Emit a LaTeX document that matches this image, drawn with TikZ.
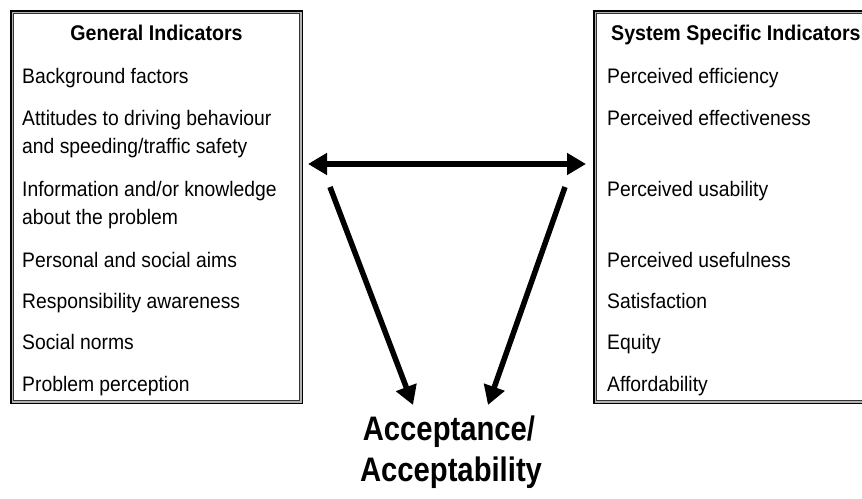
\documentclass[tikz,border=0pt]{standalone}
\usepackage{fontspec}
\setmainfont{Liberation Sans}[FakeStretch=0.92]
\newfontfamily\bigfont{Liberation Sans}[FakeStretch=0.86]
\usetikzlibrary{arrows.meta}

\tikzset{
  frame/.style={draw=black, line width=3.5pt, inner sep=0pt},
  item/.style={anchor=base west, inner sep=0pt, font=\fontsize{21}{28}\selectfont},
  head/.style={anchor=base, inner sep=0pt, font=\fontsize{21.3}{28}\selectfont\bfseries},
  headw/.style={anchor=base west, inner sep=0pt, font=\fontsize{21.3}{28}\selectfont\bfseries},
  result/.style={anchor=base, inner sep=0pt, font=\bigfont\fontsize{34}{40}\selectfont\bfseries},
  bigarrow/.style={line width=5.5pt, -{Triangle[length=19pt,width=21pt]}},
  bothways/.style={line width=5.5pt, {Triangle[length=19pt,width=21pt]}-{Triangle[length=19pt,width=21pt]}},
}

% draws the gray and thin inner lines of a framed box
\newcommand{\innerlines}[1]{%
  \draw[gray!60, line width=1.5pt]
    ([shift={(2.5pt,-2.5pt)}]#1.north west) rectangle ([shift={(-2.5pt,2.5pt)}]#1.south east);
  \draw[black!80, line width=1pt]
    ([shift={(3.75pt,-3.75pt)}]#1.north west) rectangle ([shift={(-3.75pt,3.75pt)}]#1.south east);
}

\begin{document}
\begin{tikzpicture}[x=1pt,y=-1pt]
  \clip (0,0) rectangle (862,498);
  \fill[white] (0,0) rectangle (862,498);

  % left box: general indicators
  \node[frame, minimum width=290pt, minimum height=391pt] (gen) at (156.5,207) {};
  \innerlines{gen}
  \node[head] (genT) at (gen.north |- 0,40) {General Indicators};
  \node[item] (g1) at (22,83)  {Background factors};
  \node[item] (g2) at (22,125) {Attitudes to driving behaviour};
  \node[item] (g2b) at (22,153) {and speeding/traffic safety};
  \node[item] (g3) at (22,196) {Information and/or knowledge};
  \node[item] (g3b) at (22,224) {about the problem};
  \node[item] (g4) at (22,267) {Personal and social aims};
  \node[item] (g5) at (22,308) {Responsibility awareness};
  \node[item] (g6) at (22,349) {Social norms};
  \node[item] (g7) at (22,391) {Problem perception};

  % right box: system specific indicators
  \node[frame, minimum width=300pt, minimum height=391pt] (sys) at (744.5,207) {};
  \innerlines{sys}
  \node[headw] (sysT) at (611,40) {System Specific Indicators};
  \node[item] (s1) at (607,83)  {Perceived efficiency};
  \node[item] (s2) at (607,125) {Perceived effectiveness};
  \node[item] (s3) at (607,196) {Perceived usability};
  \node[item] (s4) at (607,267) {Perceived usefulness};
  \node[item] (s5) at (607,308) {Satisfaction};
  \node[item] (s6) at (607,349) {Equity};
  \node[item] (s7) at (607,391) {Affordability};

  % outcome
  \node[result] (acc) at (449,440) {Acceptance/};
  \node[result] (acc2) at (451,481) {Acceptability};

  % arrow end points
  \coordinate (hL) at (308,164);
  \coordinate (hR) at (586,164);
  \coordinate (dL) at (330,187);
  \coordinate (dR) at (565,187);
  \coordinate (tL) at (413,405);
  \coordinate (tR) at (488,405);

  \draw[bothways] (hL) -- (hR);
  \draw[bigarrow] (dL) -- (tL);
  \draw[bigarrow] (dR) -- (tR);
\end{tikzpicture}
\end{document}
